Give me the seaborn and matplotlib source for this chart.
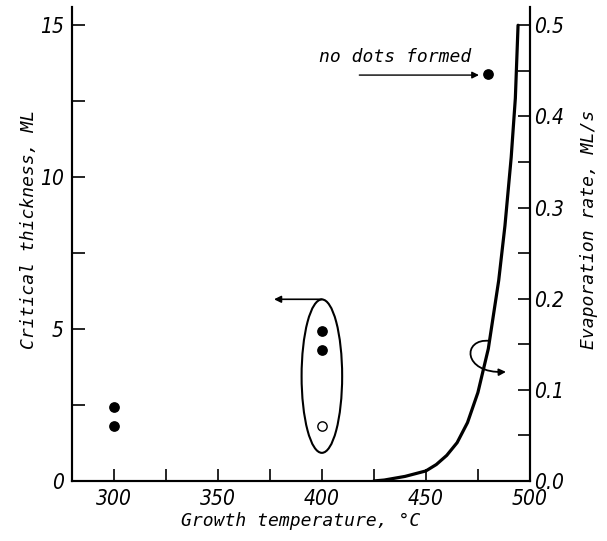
import matplotlib
matplotlib.use("Agg")
import matplotlib.pyplot as plt
from matplotlib.patches import Ellipse, FancyArrowPatch
from matplotlib.path import Path
from matplotlib.ticker import MultipleLocator, FormatStrFormatter
from matplotlib.font_manager import FontProperties
import pandas as pd
import seaborn as sns

# critical thickness points (left axis)
filled_temp = [300, 300, 400, 400, 480]
filled_thick = [2.45, 1.82, 4.94, 4.32, 13.38]
open_temp = [400]
open_thick = [1.82]

# evaporation rate curve (right axis)
evap_temp = [425, 430, 435, 440, 445, 450, 455, 460, 465, 470, 475, 480,
             485, 488, 491, 493, 494.3]
evap_rate = [0.0, 0.001, 0.003, 0.005, 0.008, 0.011, 0.018, 0.028, 0.042,
             0.064, 0.097, 0.145, 0.22, 0.28, 0.355, 0.42, 0.5]

sns.set_style("ticks", {"axes.edgecolor": "black", "xtick.color": "black",
                        "ytick.color": "black", "text.color": "black",
                        "axes.labelcolor": "black"})
NUM_FONT = dict(family=["Liberation Sans Narrow", "DejaVu Sans"],
                style="italic", stretch="condensed", size=15)
TXT_FONT = dict(family=["DejaVu Sans Mono"], style="oblique", size=13)
plt.rcParams["font.family"] = ["DejaVu Sans"]

fig = plt.figure(figsize=(6.07, 5.41), dpi=100)
ax = fig.add_axes([0.119, 0.111, 0.754, 0.876])
ax2 = ax.twinx()

pts = pd.DataFrame({"temp": filled_temp, "thick": filled_thick})
opn = pd.DataFrame({"temp": open_temp, "thick": open_thick})
sns.scatterplot(data=pts, x="temp", y="thick", ax=ax, s=45, color="black",
                edgecolor="black", linewidth=1, zorder=5)
sns.scatterplot(data=opn, x="temp", y="thick", ax=ax, s=45, color="white",
                edgecolor="black", linewidth=1, zorder=5)

curve = pd.DataFrame({"temp": evap_temp, "rate": evap_rate})
sns.lineplot(data=curve, x="temp", y="rate", ax=ax2, color="black", lw=2.3)

ax.set_xlim(280, 500)
ax.set_ylim(0, 15.6)
ax2.set_ylim(0, 0.52)

ax.xaxis.set_major_locator(MultipleLocator(50))
ax.xaxis.set_minor_locator(MultipleLocator(25))
ax.yaxis.set_major_locator(MultipleLocator(5))
ax.yaxis.set_minor_locator(MultipleLocator(2.5))
ax2.yaxis.set_major_locator(MultipleLocator(0.1))
ax2.yaxis.set_minor_locator(MultipleLocator(0.05))
ax2.yaxis.set_major_formatter(FormatStrFormatter("%.1f"))

for a in (ax, ax2):
    a.spines["top"].set_visible(False)
    for s in a.spines.values():
        s.set_linewidth(1.5)
    a.tick_params(which="both", direction="in", length=9, width=1.2)
ax.tick_params(axis="y", pad=6)
ax.tick_params(axis="x", pad=6)
ax2.tick_params(axis="y", pad=3)

for lab in ax.get_xticklabels() + ax.get_yticklabels() + ax2.get_yticklabels():
    lab.set_fontproperties(FontProperties(**NUM_FONT))

ax.set_xlabel("Growth temperature, °C", fontdict=TXT_FONT, labelpad=2)
ax.set_ylabel("Critical thickness, ML", fontdict=TXT_FONT)
ax2.set_ylabel("Evaporation rate, ML/s", fontdict=TXT_FONT)
ax.yaxis.set_label_coords(-0.075, 0.53)
ax2.yaxis.set_label_coords(1.11, 0.53)

# ellipse around the 400 C points with arrow to the left axis
ax.add_patch(Ellipse((400, 3.45), width=19.5, height=5.05, fill=False,
                     lw=1.5, color="black"))
ax.annotate("", xy=(377, 5.98), xytext=(400, 5.98),
            arrowprops=dict(arrowstyle="-|>", color="black", lw=1.2,
                            mutation_scale=10, shrinkA=0, shrinkB=0))

# hook arrow from the curve to the right axis (cubic bezier in data units)
hook = Path([(480.6, 4.61), (467.4, 4.71), (467.4, 3.53), (488.5, 3.59)],
            [Path.MOVETO, Path.CURVE4, Path.CURVE4, Path.CURVE4])
ax.add_patch(FancyArrowPatch(path=hook, arrowstyle="-|>", color="black",
                             lw=1.3, mutation_scale=10,
                             transform=ax.transData))

# no dots formed
ax.annotate("", xy=(475.5, 13.36), xytext=(418, 13.36),
            arrowprops=dict(arrowstyle="-|>", color="black", lw=1.0,
                            mutation_scale=10, shrinkA=0, shrinkB=0))
ax.text(435, 13.94, "no dots formed", ha="center", va="center", **TXT_FONT)

fig.savefig("out.png", dpi=100)
